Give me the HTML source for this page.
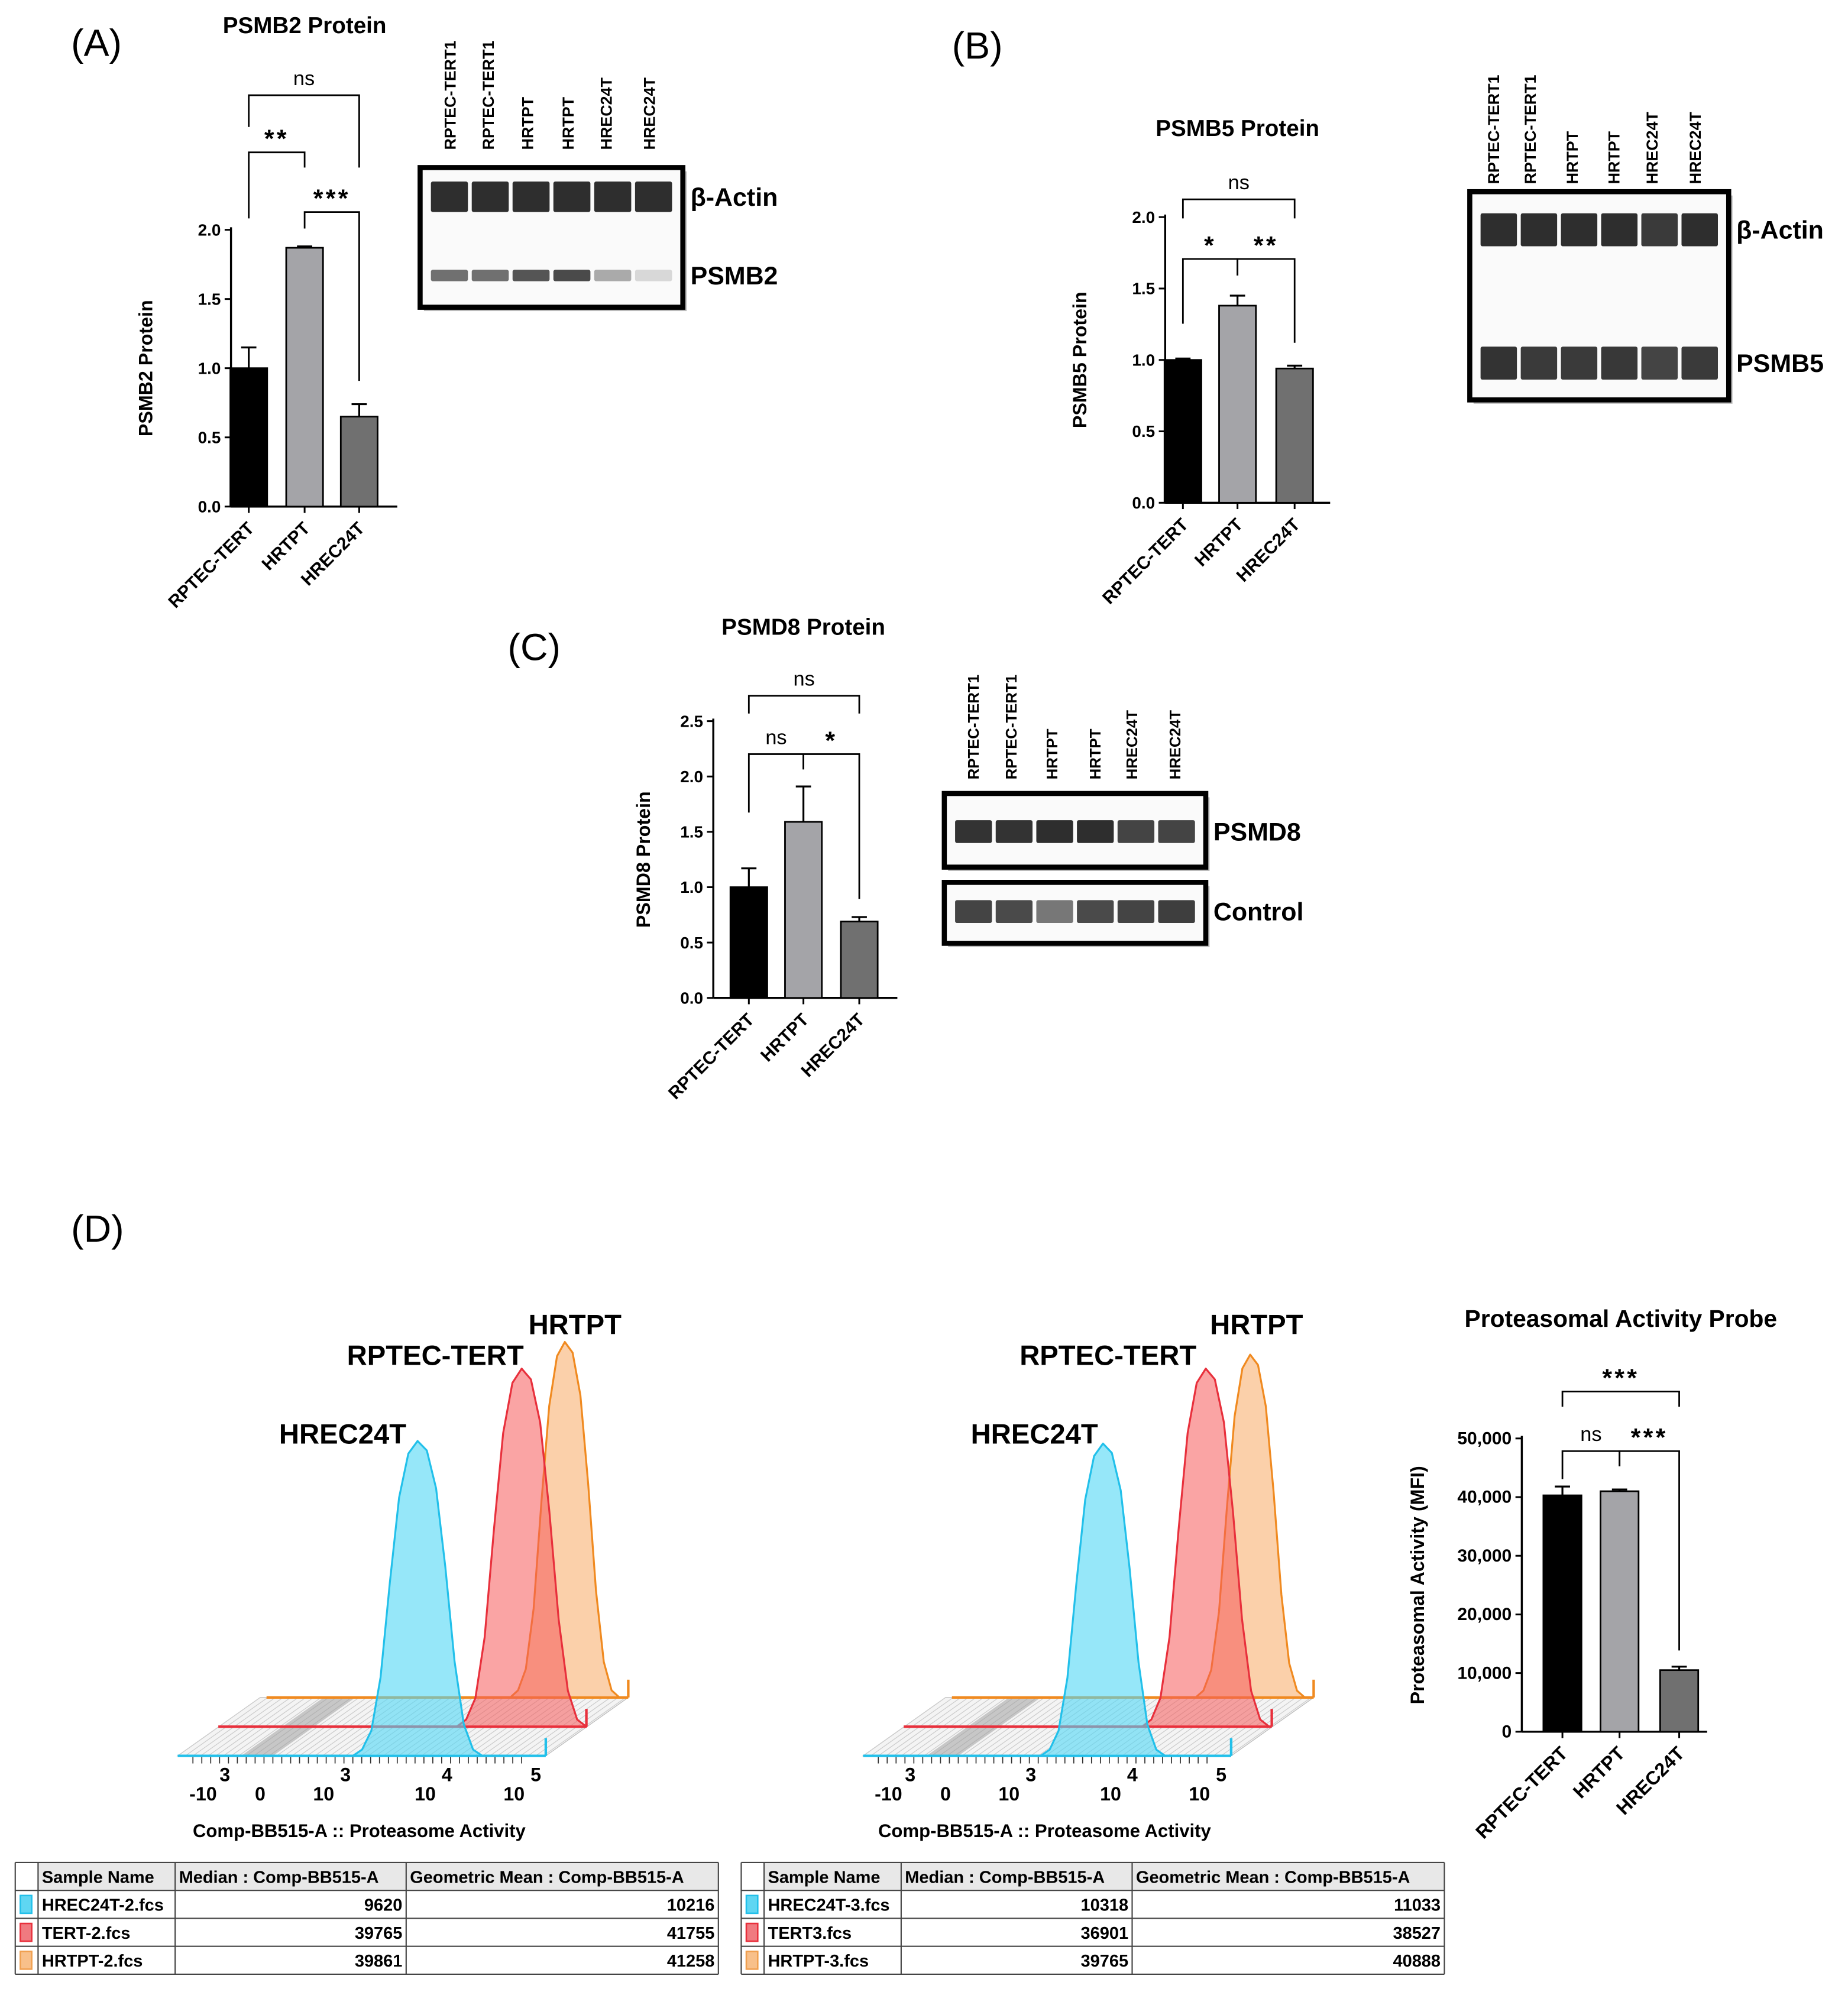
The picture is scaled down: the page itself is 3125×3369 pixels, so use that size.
<!DOCTYPE html>
<html><head><meta charset="utf-8"><style>
html,body{margin:0;padding:0;background:#fff}
svg{display:block}
text{font-family:"Liberation Sans",Arial,sans-serif}
</style></head><body>
<svg id="root" xmlns="http://www.w3.org/2000/svg" width="3125" height="3369" viewBox="0 0 1456 1569" preserveAspectRatio="none">
<rect width="1456" height="1569" fill="#fff"/>
<g id="g"></g>
</svg>
<script>
// ---------- DATA ----------
const cats = ['RPTEC-TERT','HRTPT','HREC24T'];
const psmb2Vals = [1.0, 1.87, 0.65];
const psmb2Err = [0.15, 0.01, 0.09];
const psmb2Ticks = ['0.0','0.5','1.0','1.5','2.0'];
const psmb5Vals = [1.0, 1.38, 0.94];
const psmb5Err = [0.01, 0.07, 0.02];
const psmb5Ticks = ['0.0','0.5','1.0','1.5','2.0'];
const psmd8Vals = [1.0, 1.59, 0.69];
const psmd8Err = [0.17, 0.32, 0.04];
const psmd8Ticks = ['0.0','0.5','1.0','1.5','2.0','2.5'];
const actVals = [40300, 41000, 10500];
const actErr = [1500, 300, 600];
const actTicks = ['0','10,000','20,000','30,000','40,000','50,000'];
const laneLabels = ['RPTEC-TERT1','RPTEC-TERT1','HRTPT','HRTPT','HREC24T','HREC24T'];
const histProfile = [0,0.02,0.08,0.25,0.55,0.82,0.96,1,0.97,0.85,0.6,0.3,0.1,0.02,0];
const tableLeft = [['HREC24T-2.fcs','9620','10216'],['TERT-2.fcs','39765','41755'],['HRTPT-2.fcs','39861','41258']];
const tableRight = [['HREC24T-3.fcs','10318','11033'],['TERT3.fcs','36901','38527'],['HRTPT-3.fcs','39765','40888']];

const NS='http://www.w3.org/2000/svg';
const G=document.getElementById('g');
function el(tag,attrs,parent,txt){const e=document.createElementNS(NS,tag);for(const k in attrs)e.setAttribute(k,attrs[k]);if(txt!==undefined)e.textContent=txt;(parent||G).appendChild(e);return e;}
const barFills=['#000','#a4a4a8','#707070'];

function barChart(o){
  const g=el('g',{});
  
  
  const y=v=>o.y0-(v/o.max)*(o.y0-o.yTop);
  el('line',{x1:o.x0,y1:o.yTop-2,x2:o.x0,y2:o.y0,stroke:'#000','stroke-width':1.6},g);
  el('line',{x1:o.x0,y1:o.y0,x2:o.x1,y2:o.y0,stroke:'#000','stroke-width':1.6},g);
  o.ticks.forEach((t,i)=>{const v=o.max*i/(o.ticks.length-1);const yy=y(v);
    el('line',{x1:o.x0-5,y1:yy,x2:o.x0,y2:yy,stroke:'#000','stroke-width':1.4},g);
    const tx=el('text',{x:o.x0-8,y:yy+4.5,'text-anchor':'end','font-size':o.tfs||13,'font-weight':'bold'},g,t);
    
    
  });
  o.vals.forEach((v,i)=>{const cx=o.cx[i];
    const r=el('rect',{x:cx-o.bw/2,y:y(v),width:o.bw,height:o.y0-y(v),fill:barFills[i],stroke:'#000','stroke-width':1.3},g);
    
    
    const ye=y(v+o.err[i]);
    el('line',{x1:cx,y1:y(v),x2:cx,y2:ye,stroke:'#000','stroke-width':1.5},g);
    el('line',{x1:cx-6,y1:ye,x2:cx+6,y2:ye,stroke:'#000','stroke-width':1.5},g);
    el('line',{x1:cx,y1:o.y0,x2:cx,y2:o.y0+5,stroke:'#000','stroke-width':1.4},g);
    const lb=el('text',{x:cx+5,y:o.y0+18,'text-anchor':'end','font-size':o.lfs||14,'font-weight':'bold',transform:`rotate(-45 ${cx+5} ${o.y0+18})`},g,cats[i]);
    
    
  });
  const yt=el('text',{x:o.ytx,y:(o.y0+o.yTop)/2,'text-anchor':'middle','font-size':o.yfs||15,'font-weight':'bold',transform:`rotate(-90 ${o.ytx} ${(o.y0+o.yTop)/2})`},g,o.ytitle);
  
  
  const tt=el('text',{x:o.tx,y:o.ty,'text-anchor':'middle','font-size':o.tsz||18,'font-weight':'bold'},g,o.title);
  
  
  o.br.forEach(b=>{const [a,c,yy,lab,l1,l2]=b;const xa=o.cx[a],xc=o.cx[c];
    const p=el('path',{d:`M${xa},${l1} V${yy} H${xc} V${l2}`,fill:'none',stroke:'#000','stroke-width':1.3},g);
    
    
    const ns=lab==='ns';
    const t=el('text',{x:(xa+xc)/2,y:ns?yy-8:yy-4,'text-anchor':'middle','font-size':ns?16:20,'font-weight':ns?'normal':'bold','letter-spacing':ns?0:2},g,lab);
    
    
  });
}

barChart({name:'psmb2-chart',x0:182,x1:313,y0:399,yTop:181,max:2,ticks:psmb2Ticks,vals:psmb2Vals,err:psmb2Err,cx:[196,240,283],bw:29,ytitle:'PSMB2 Protein',ytx:120,title:'PSMB2 Protein',tx:240,ty:26,
  br:[[0,2,75,'ns',100,132],[0,1,120,'**',172,132],[1,2,167,'***',180,300]]});
barChart({name:'psmb5-chart',x0:918,x1:1048,y0:396,yTop:171,max:2,ticks:psmb5Ticks,vals:psmb5Vals,err:psmb5Err,cx:[932,975,1020],bw:29,ytitle:'PSMB5 Protein',ytx:856,title:'PSMB5 Protein',tx:975,ty:107,
  br:[[0,2,157,'ns',172,172],[0,1,204,'*',255,217],[1,2,204,'**',217,270]]});
barChart({name:'psmd8-chart',x0:562,x1:707,y0:786,yTop:568,max:2.5,ticks:psmd8Ticks,vals:psmd8Vals,err:psmd8Err,cx:[590,633,677],bw:29,ytitle:'PSMD8 Protein',ytx:512,title:'PSMD8 Protein',tx:633,ty:500,
  br:[[0,2,548,'ns',562,562],[0,1,594,'ns',640,606],[1,2,594,'*',606,708]]});
barChart({name:'proteasome-activity-chart',x0:1199,x1:1345,y0:1364,yTop:1133,max:50000,ticks:actTicks,vals:actVals,err:actErr,cx:[1231,1276,1323],bw:30,ytitle:'Proteasomal Activity (MFI)',ytx:1122,yfs:15,tfs:14,lfs:15,title:'Proteasomal Activity Probe',tx:1277,ty:1045,tsz:19,
  br:[[0,2,1096,'***',1108,1108],[0,1,1143,'ns',1165,1155],[1,2,1143,'***',1155,1300]]});

// panel letters
[['(A)',56,44],['(B)',750,46],['(C)',400,520],['(D)',56,978]].forEach(p=>{
  const t=el('text',{x:p[1],y:p[2],'font-size':30,'font-weight':'normal'},G,p[0]);
  
  
});

// blots
function blot(o){
  const g=el('g',{});
  
  
  o.boxes.forEach(b=>{
    el('rect',{x:b.x+3,y:b.y+3,width:b.w,height:b.h,fill:'#bbb'},g);
    el('rect',{x:b.x,y:b.y,width:b.w,height:b.h,fill:'#fafafa',stroke:'#000','stroke-width':4},g);
    const lw=(b.w-14)/6;
    b.bands.forEach(bd=>{for(let i=0;i<6;i++){
      el('rect',{x:b.x+7+i*lw+1.5,y:bd.y-bd.h/2,width:lw-3,height:bd.h,fill:bd.c[i],rx:1.5},g);
    }
    const lt=el('text',{x:b.x+b.w+6,y:bd.y+7,'font-size':20,'font-weight':'bold'},g,bd.label);
    
    });
  });
  laneLabels.forEach((l,i)=>{const x=o.lx[i];
    const t=el('text',{x:x,y:o.ly,'font-size':o.lfs||12.5,'font-weight':'bold',transform:`rotate(-90 ${x} ${o.ly})`},g,l);
    
    });
}
const d='#2e2e2e';
blot({name:'psmb2-blot',ly:118,lx:[359,389,420,452,482,516],boxes:[{x:331,y:132,w:207,h:110,bands:[
  {y:155,h:24,c:[d,d,d,d,d,d],label:'β-Actin'},
  {y:217,h:9,c:['#707070','#707070','#555','#4a4a4a','#aaa','#d8d8d8'],label:'PSMB2'}]}]});
blot({name:'psmb5-blot',ly:145,lx:[1181,1210,1243,1276,1306,1340],boxes:[{x:1158,y:151,w:204,h:164,bands:[
  {y:181,h:26,c:[d,d,d,d,'#3a3a3a',d],label:'β-Actin'},
  {y:286,h:26,c:['#333','#3a3a3a','#3a3a3a','#383838','#444','#3a3a3a'],label:'PSMB5'}]}]});
blot({name:'psmd8-blot',ly:614,lx:[771,801,833,867,896,930],lfs:12,boxes:[
  {x:744,y:625,w:206,h:58,bands:[{y:655,h:18,c:['#333','#333','#2e2e2e','#2e2e2e','#444','#444'],label:'PSMD8'}]},
  {x:744,y:695,w:206,h:48,bands:[{y:718,h:18,c:['#444','#4a4a4a','#777','#4a4a4a','#444','#3e3e3e'],label:'Control'}]}]});

// histograms
const hColors=[{f:'rgba(80,215,245,0.6)',s:'#22c0ea'},{f:'rgba(245,90,90,0.55)',s:'#e8303c'},{f:'rgba(248,170,100,0.55)',s:'#f08a20'}];
const hNames=['histogram-hrec24t','histogram-rptec-tert','histogram-hrtpt'];
function histo(ox,name,peaks){
  const g=el('g',{});
  
  
  el('path',{d:`M${ox+140},1383 L${ox+430},1383 L${ox+495},1337 L${ox+205},1337 Z`,fill:'#f4f4f4',stroke:'#bbb','stroke-width':0.6},g);
  for(let x=ox+140;x<=ox+430;x+=6) el('line',{x1:x,y1:1383,x2:x+65,y2:1337,stroke:'#ccc','stroke-width':0.6},g);
  el('path',{d:`M${ox+190},1383 L${ox+215},1383 L${ox+280},1337 L${ox+255},1337 Z`,fill:'#999','fill-opacity':0.5},g);
  el('line',{x1:ox+210,y1:1337,x2:ox+495,y2:1337,stroke:'#f08a20','stroke-width':2},g);
  el('line',{x1:ox+172,y1:1360,x2:ox+462,y2:1360,stroke:'#e8303c','stroke-width':2},g);
  el('line',{x1:ox+140,y1:1383,x2:ox+430,y2:1383,stroke:'#22c0ea','stroke-width':2},g);
  [2,1,0].forEach(k=>{const p=peaks[k];
    const n=histProfile.length;let dd=`M${p.x0},${p.base}`;
    histProfile.forEach((h,i)=>{dd+=` L${p.x0+(p.x1-p.x0)*i/(n-1)},${p.base-h*p.h}`;});
    dd+=` Z`;
    const path=el('path',{d:dd,fill:hColors[k].f,stroke:hColors[k].s,'stroke-width':1.5,'stroke-linejoin':'round'},g);
    
    
    el('line',{x1:p.end,y1:p.base,x2:p.end,y2:p.base-14,stroke:hColors[k].s,'stroke-width':2},g);
  });
  for(let x=ox+152;x<=ox+415;x+=7) el('line',{x1:x,y1:1384,x2:x,y2:1389,stroke:'#333','stroke-width':0.8},g);
  [[ox+160,'-10','3'],[ox+205,'0',''],[ox+255,'10','3'],[ox+335,'10','4'],[ox+405,'10','5']].forEach(t=>{
    const tx=el('text',{x:t[0],y:1418,'text-anchor':'middle','font-size':15,'font-weight':'bold'},g,t[1]);
    
    
    if(t[2]) el('text',{x:t[0]+13,y:1403,'font-size':15,'font-weight':'bold'},g,t[2]);
  });
  const at=el('text',{x:ox+283,y:1447,'text-anchor':'middle','font-size':14.5,'font-weight':'bold'},g,'Comp-BB515-A :: Proteasome Activity');
  
  
  [['HREC24T',peaks[0].lx,1137],['RPTEC-TERT',peaks[1].lx,1075],['HRTPT',peaks[2].lx,1051]].forEach(l=>{
    const t=el('text',{x:l[1],y:l[2],'text-anchor':'middle','font-size':22,'font-weight':'bold'},g,l[0]);
    
    
  });
}
histo(0,'histogram-left',[{x0:278,x1:380,base:1383,h:248,end:430,lx:270},{x0:360,x1:462,base:1360,h:282,end:462,lx:343},{x0:402,x1:488,base:1337,h:280,end:495,lx:453}]);
histo(540,'histogram-right',[{x0:820,x1:918,base:1383,h:246,end:970,lx:815},{x0:900,x1:1000,base:1360,h:282,end:1002,lx:873},{x0:942,x1:1028,base:1337,h:270,end:1035,lx:990}]);

// tables
function table(x,rows,name){
  const g=el('g',{});
  
  
  const cols=[x,x+18,x+126,x+308,x+554];const y0=1467,rh=22;
  el('rect',{x:x+18,y:y0,width:536,height:rh,fill:'#e8e8e8'},g);
  const heads=['Sample Name','Median : Comp-BB515-A','Geometric Mean : Comp-BB515-A'];
  heads.forEach((h,i)=>el('text',{x:cols[i+1]+3,y:y0+16,'font-size':13.5,'font-weight':'bold'},g,h));
  const sw=['#5fd6f2','#f07a80','#f8c08a'];const ss=['#22c0ea','#e8303c','#f0a050'];
  rows.forEach((r,i)=>{const yy=y0+rh*(i+1);
    el('rect',{x:x+4,y:yy+4,width:9,height:14,fill:sw[i],stroke:ss[i],'stroke-width':1.2},g);
    const t=el('text',{x:cols[1]+3,y:yy+16,'font-size':13.5,'font-weight':'bold'},g,r[0]);
    
    
    el('text',{x:cols[3]-3,y:yy+16,'text-anchor':'end','font-size':13.5,'font-weight':'bold'},g,r[1]);
    el('text',{x:cols[4]-3,y:yy+16,'text-anchor':'end','font-size':13.5,'font-weight':'bold'},g,r[2]);
  });
  for(let i=0;i<=4;i++) el('line',{x1:x,y1:y0+rh*i,x2:x+554,y2:y0+rh*i,stroke:'#444','stroke-width':1},g);
  cols.forEach(c=>el('line',{x1:c,y1:y0,x2:c,y2:y0+rh*4,stroke:'#444','stroke-width':1},g));
}
table(12,tableLeft,'stats-table-left');
table(584,tableRight,'stats-table-right');
</script>
</body></html>
